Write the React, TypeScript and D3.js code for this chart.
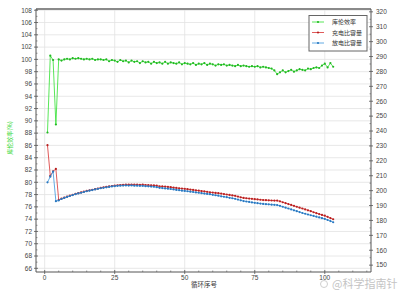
import React from "react";
import * as d3 from "d3";

const cycles: number[] = Array.from({ length: 103 }, (_, i) => i + 1);

const efficiency: number[] = [
  88.1, 100.6, 99.9, 89.4, 100.0, 99.8, 100.0, 100.1, 100.0, 100.2,
  100.1, 100.2, 100.1, 100.0, 100.1, 100.0, 100.1, 99.9, 100.0, 100.0,
  99.9, 100.0, 99.7, 99.9, 99.8, 99.6, 99.9, 99.7, 99.8, 99.5,
  99.8, 99.6, 99.7, 99.4, 99.7, 99.5, 99.6, 99.3, 99.6, 99.4,
  99.5, 99.3, 99.6, 99.3, 99.5, 99.4, 99.3, 99.5, 99.2, 99.4,
  99.3, 99.2, 99.4, 99.1, 99.3, 99.2, 99.4, 99.1, 99.3, 99.2,
  99.0, 99.2, 99.1, 99.2, 99.0, 99.1, 99.0, 98.9, 99.1, 98.9,
  99.0, 98.9, 98.8, 98.9, 98.8, 98.9, 98.7, 98.8, 98.7, 98.6,
  98.5, 98.2, 97.6, 97.9, 98.2, 97.9, 98.1, 98.3, 98.0, 98.2,
  98.4, 98.3, 98.2, 98.5, 98.4, 98.6, 98.7, 98.6, 99.0, 99.3,
  98.7, 99.4, 98.8,
];

const chargeCap: number[] = [
  230.5, 209.9, 212.9, 214.6, 193.8, 194.6, 195.3, 196.0, 196.6, 197.2,
  197.8, 198.3, 198.8, 199.3, 199.8, 200.2, 200.6, 201.0, 201.4, 201.8,
  202.2, 202.5, 202.8, 203.1, 203.4, 203.6, 203.8, 203.9, 204.0, 204.0,
  204.1, 204.0, 204.0, 203.9, 204.0, 203.8, 203.7, 203.6, 203.5, 203.3,
  202.9, 202.8, 202.7, 202.5, 202.3, 202.0, 201.8, 201.6, 201.4, 201.2,
  201.0, 200.7, 200.5, 200.2, 200.0, 199.7, 199.5, 199.2, 198.9, 198.7,
  198.5, 198.3, 198.0, 197.7, 197.4, 197.1, 196.8, 196.5, 196.0, 195.5,
  195.1, 194.9, 194.7, 194.5, 194.3, 194.1, 193.9, 193.7, 193.6, 193.5,
  193.4, 193.3, 193.3, 192.8, 192.2, 191.6, 191.0, 190.4, 189.8, 189.2,
  188.6, 188.0, 187.4, 186.8, 186.2, 185.5, 184.9, 184.3, 183.7, 183.2,
  182.4, 181.6, 180.8,
];

const dischargeCap: number[] = [
  205.6, 209.4, 212.8, 192.9, 193.4, 194.4, 195.1, 195.8, 196.4, 197.0,
  197.6, 198.1, 198.6, 199.1, 199.6, 200.0, 200.4, 200.8, 201.2, 201.6,
  201.9, 202.2, 202.5, 202.8, 203.0, 203.2, 203.3, 203.4, 203.5, 203.4,
  203.5, 203.3, 203.3, 203.2, 203.2, 203.0, 202.9, 202.7, 202.6, 202.3,
  201.9, 201.7, 201.5, 201.3, 201.1, 200.8, 200.5, 200.3, 200.0, 199.8,
  199.6, 199.3, 199.1, 198.8, 198.6, 198.3, 198.0, 197.8, 197.6, 197.2,
  196.9, 196.6, 196.2, 195.9, 195.6, 195.2, 194.9, 194.5, 194.0, 193.5,
  193.0, 192.7, 192.4, 192.1, 191.8, 191.6, 191.3, 191.1, 190.9, 190.8,
  190.6, 190.5, 190.3, 189.8, 189.2, 188.6, 188.0, 187.4, 186.8, 186.2,
  185.6, 185.0, 184.5, 184.0, 183.5, 183.0, 182.5, 182.0, 181.5, 181.0,
  180.3, 179.6, 178.8,
];

const leftTicks: number[] = d3.range(66, 109, 2);
const leftMinor: number[] = d3.range(67, 108, 2);
const rightTicks: number[] = d3.range(150, 321, 10);
const rightMinor: number[] = d3.range(155, 320, 10);
const xTicks: number[] = [0, 25, 50, 75, 100];
const xMinor: number[] = d3.range(5, 116, 5).filter((v) => v % 25 !== 0);

const seriesNames = ["库伦效率", "充电比容量", "放电比容量"];
const seriesColors = ["#2ee02e", "#d83030", "#3a94dc"];
const markerColors = ["#22b822", "#b82020", "#2a78c0"];

const W = 407;
const H = 298;
const L = 36;
const R = 371;
const T = 9;
const B = 272;

export default function App() {
  const x = d3.scaleLinear().domain([-3.1, 116.5]).range([L, R]);
  const yL = d3.scaleLinear().domain([65.4, 108.2]).range([B, T]);
  const yR = d3.scaleLinear().domain([145.4, 321.9]).range([B, T]);

  const lineL = d3
    .line<number>()
    .x((_, i) => x(cycles[i]))
    .y((d) => yL(d));
  const lineR = d3
    .line<number>()
    .x((_, i) => x(cycles[i]))
    .y((d) => yR(d));

  const font = "'Liberation Sans', Arial, sans-serif";
  const cjk = "'Noto Sans CJK SC', sans-serif";

  const series = [
    { data: efficiency, line: lineL, y: yL },
    { data: chargeCap, line: lineR, y: yR },
    { data: dischargeCap, line: lineR, y: yR },
  ];

  return (
    <svg
      width={W}
      height={H}
      style={{ position: "absolute", left: 0, top: 0, background: "#fff" }}
    >
      <rect x={0} y={0} width={W} height={H} fill="#fff" />
      {/* grid */}
      {leftTicks.map((t) => (
        <line key={"gh" + t} x1={L} x2={R} y1={yL(t)} y2={yL(t)} stroke="#e2e2e2" strokeWidth={0.8} />
      ))}
      {xTicks.map((t) => (
        <line key={"gv" + t} x1={x(t)} x2={x(t)} y1={T} y2={B} stroke="#e2e2e2" strokeWidth={0.8} />
      ))}
      {/* frame */}
      <line x1={L} x2={R} y1={T} y2={T} stroke="#8a8a8a" strokeWidth={2} />
      <line x1={L} x2={L} y1={T} y2={B} stroke="#555" strokeWidth={1} />
      <line x1={R} x2={R} y1={T} y2={B} stroke="#555" strokeWidth={1} />
      <line x1={L} x2={R} y1={B} y2={B} stroke="#555" strokeWidth={1} />

      {/* left axis ticks */}
      {leftTicks.map((t) => (
        <g key={"lt" + t}>
          <line x1={L - 2} x2={L + 2} y1={yL(t)} y2={yL(t)} stroke="#555" strokeWidth={0.8} />
          <text x={L - 4} y={yL(t) + 2.3} fontSize={6.5} fontFamily={font} textAnchor="end" fill="#444">
            {t}
          </text>
        </g>
      ))}
      {leftMinor.map((t) => (
        <line key={"lm" + t} x1={L} x2={L + 1.5} y1={yL(t)} y2={yL(t)} stroke="#555" strokeWidth={0.6} />
      ))}
      {/* right axis */}
      {rightTicks.map((t) => (
        <g key={"rt" + t}>
          <line x1={R - 2} x2={R + 2} y1={yR(t)} y2={yR(t)} stroke="#555" strokeWidth={0.8} />
          <text x={R + 5} y={yR(t) + 2.3} fontSize={6.5} fontFamily={font} textAnchor="start" fill="#444">
            {t}
          </text>
        </g>
      ))}
      {rightMinor.map((t) => (
        <line key={"rm" + t} x1={R - 1.5} x2={R} y1={yR(t)} y2={yR(t)} stroke="#555" strokeWidth={0.6} />
      ))}
      {/* bottom axis */}
      {xTicks.map((t) => (
        <g key={"xt" + t}>
          <line x1={x(t)} x2={x(t)} y1={B - 2} y2={B + 2} stroke="#555" strokeWidth={0.8} />
          <text x={x(t)} y={B + 8} fontSize={6.5} fontFamily={font} textAnchor="middle" fill="#444">
            {t}
          </text>
        </g>
      ))}
      {xMinor.map((t) => (
        <line key={"xm" + t} x1={x(t)} x2={x(t)} y1={B - 1.5} y2={B} stroke="#555" strokeWidth={0.6} />
      ))}

      {/* axis titles */}
      <text
        transform={`translate(12,138) rotate(-90)`}
        fontSize={6}
        fontFamily={cjk}
        textAnchor="middle"
        fill="#3ad83a"
      >
        库伦效率(%)
      </text>
      <text x={204} y={287} fontSize={6.5} fontFamily={cjk} textAnchor="middle" fill="#333">
        循环序号
      </text>

      {/* series */}
      {series.map((s, k) => (
        <g key={"s" + k}>
          <path d={s.line(s.data) || ""} fill="none" stroke={seriesColors[k]} strokeWidth={0.8} />
          {s.data.map((v, i) => (
            <circle key={i} cx={x(cycles[i])} cy={s.y(v)} r={1.1} fill={markerColors[k]} />
          ))}
        </g>
      ))}

      {/* legend */}
      <rect x={309} y={15.5} width={58} height={35.5} fill="#fff" stroke="#666" strokeWidth={1} />
      {seriesNames.map((n, k) => {
        const yy = 22 + k * 10.5;
        return (
          <g key={"lg" + k}>
            <line x1={312} x2={324} y1={yy} y2={yy} stroke={seriesColors[k]} strokeWidth={0.8} />
            <circle cx={318} cy={yy} r={1.1} fill={markerColors[k]} />
            <text x={332} y={yy + 2.1} fontSize={6} fontFamily={cjk} fill="#333">
              {n}
            </text>
          </g>
        );
      })}

      {/* watermark */}
      <circle cx={324} cy={284} r={3.5} fill="none" stroke="#cfcfcf" strokeWidth={1} />
      <text x={332} y={288} fontSize={11} fontFamily={cjk} fill="#c4c4c4">
        @科学指南针
      </text>
    </svg>
  );
}
